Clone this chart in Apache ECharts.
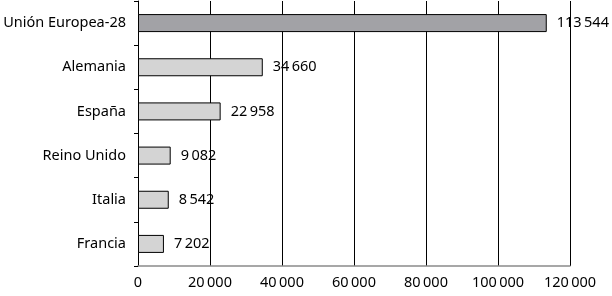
<!DOCTYPE html>
<html>
<head>
<meta charset="utf-8">
<script src="https://cdn.jsdelivr.net/npm/echarts@6/dist/echarts.min.js"></script>
<style>
  html, body { margin: 0; padding: 0; background: #fff; }
  #chart { width: 612px; height: 296px; }
</style>
</head>
<body>
<div id="chart"></div>
<script>
const categories = ['Unión Europea-28', 'Alemania', 'España', 'Reino Unido', 'Italia', 'Francia'];
const values = [113544, 34660, 22958, 9082, 8542, 7202];
const barColors = ['#a2a2a6', '#d4d4d4', '#d4d4d4', '#d4d4d4', '#d4d4d4', '#d4d4d4'];
const xTicks = [0, 20000, 40000, 60000, 80000, 100000, 120000];

// separador de miles con espacio fino
const fmt = (v) => String(v).replace(/\B(?=(\d{3})+(?!\d))/g, '\u2009');

const chart = echarts.init(document.getElementById('chart'), null, { renderer: 'canvas' });

chart.setOption({
  animation: false,
  textStyle: { fontFamily: 'Noto Sans' },
  grid: { left: 138, right: 42, top: 1, bottom: 30, containLabel: false, outerBoundsMode: 'none' },
  xAxis: {
    type: 'value',
    min: xTicks[0],
    max: xTicks[xTicks.length - 1],
    interval: 20000,
    axisLine: { show: true, lineStyle: { color: '#8a8a8a', width: 1.5 } },
    axisTick: { show: false },
    axisLabel: { color: '#000', fontSize: 14.5, margin: 9, formatter: fmt },
    splitLine: { show: true, lineStyle: { color: '#000', width: 1 } }
  },
  yAxis: {
    type: 'category',
    inverse: true,
    data: categories,
    axisLine: { show: true, lineStyle: { color: '#000', width: 1 } },
    axisTick: { show: true, length: 4, lineStyle: { color: '#000' } },
    axisLabel: { color: '#000', fontSize: 14.5, margin: 12 }
  },
  series: [{
    type: 'bar',
    barWidth: 18,
    data: values.map((v, i) => ({
      value: v,
      itemStyle: { color: barColors[i], borderColor: '#000', borderWidth: 1 }
    })),
    label: {
      show: true,
      position: 'right',
      distance: 10,
      color: '#000',
      fontSize: 14.5,
      formatter: (p) => fmt(p.value)
    }
  }]
});
</script>
</body>
</html>
